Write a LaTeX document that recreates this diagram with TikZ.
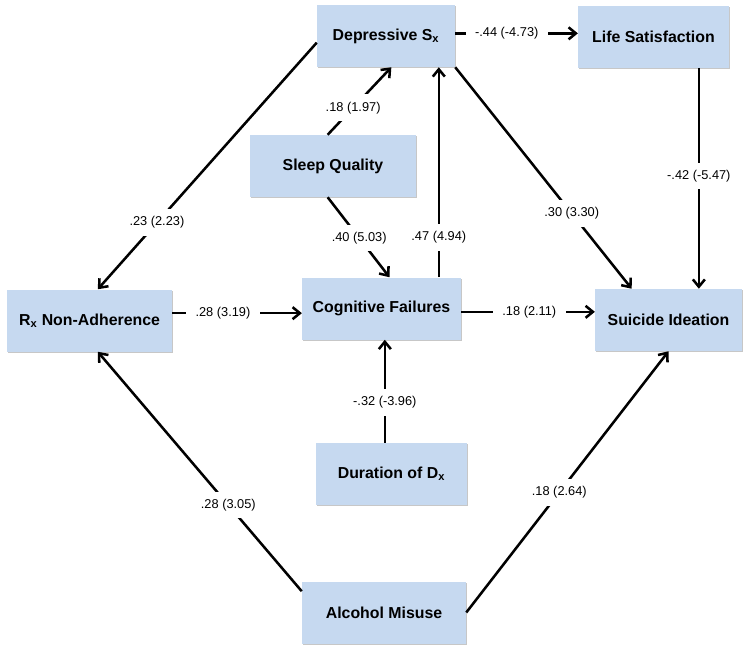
\documentclass[tikz,border=0pt]{standalone}
\usepackage{fontspec}
\setmainfont{Liberation Sans}
\usetikzlibrary{positioning,calc,shadows,arrows.meta}
\definecolor{boxblue}{HTML}{C6D9F0}

\begin{document}
\begin{tikzpicture}[
  x=0.75pt, y=-0.75pt,
  var/.style={fill=boxblue, minimum height=46.5pt, inner sep=2pt,
    font=\fontsize{11.9}{12}\selectfont\bfseries,
    drop shadow={shadow xshift=0.7pt, shadow yshift=-1.1pt, opacity=0.22, fill=black}},
  link/.style={line width=1.9pt, -{Straight Barb[length=5.5pt,width=9pt]}},
  coef/.style={fill=white, inner xsep=7pt, inner ysep=5.5pt, font=\fontsize{9.6}{10}\selectfont}
  ]

   \useasboundingbox (0,0) rectangle (750,653);

   \node (dep) [var, minimum width=103.5pt] at (386,36) {Depressive S\textsubscript{x}} ;
   \node (life) [var, minimum width=113pt] at (653.5,36.5) {Life Satisfaction} ;
   \node (sleep) [var, minimum width=124.5pt] at (333,166) {Sleep Quality} ;
   \node (cog) [var, minimum width=119pt] at (381.5,308.5) {Cognitive Failures} ;
   \node (rx) [var, minimum width=124pt] at (89.5,320.5) {R\textsubscript{x} Non-Adherence} ;
   \node (sui) [var, minimum width=110pt] at (668.5,320) {Suicide Ideation} ;
   \node (dur) [var, minimum width=113pt] at (391.5,474) {Duration of D\textsubscript{x}} ;
   \node (alc) [var, minimum width=123pt] at (384,612.5) {Alcohol Misuse} ;

   % upper paths
   \draw [link] ([yshift=2pt]dep.east) coordinate (d1) -- node[coef, pos=0.42] {-.44 (-4.73)} (d1 -| life.west);
   \draw [link] (dep.south east) -- node[coef, pos=0.66] {.30 (3.30)} ($(sui.north west)!0.25!(sui.north east)$);
   \draw [link] ($(life.south west)!0.8!(life.south east)$) coordinate (l1) -- node[coef, pos=0.49] {-.42 (-5.47)} (l1 |- sui.north);
   \draw [link] ([yshift=-5pt]dep.west) -- node[coef, pos=0.73] {.23 (2.23)} ($(rx.north west)!0.55!(rx.north east)$);
   \draw [link] ([xshift=-4pt]sleep.north) -- node[coef, pos=0.40] {.18 (1.97)} ([xshift=4pt]dep.south);
   \draw [link] ([xshift=-4pt]sleep.south) -- node[coef, pos=0.51] {.40 (5.03)} ([xshift=6pt]cog.north);
   \draw [link] ($(cog.north west)!0.86!(cog.north east)$) coordinate (c1) -- node[coef, pos=0.19] {.47 (4.94)} (c1 |- dep.south);

   % middle row
   \draw [link] ([yshift=5.5pt]rx.east) coordinate (r1) -- node[coef, pos=0.39] {.28 (3.19)} (r1 -| cog.west);
   \draw [link] ([yshift=-2.5pt]cog.east) coordinate (c2) -- node[coef, pos=0.51] {.18 (2.11)} (c2 -| sui.west);
   \draw [link] ([xshift=-5pt]dur.north) coordinate (u1) -- node[coef, pos=0.39] {-.32 (-3.96)} (u1 |- cog.south);

   % lower paths
   \draw [link] ($(alc.north west)!0.16!(alc.south west)$) -- node[coef, pos=0.36] {.28 (3.05)} ($(rx.south west)!0.55!(rx.south east)$);
   \draw [link] (alc.east) -- node[coef, pos=0.46] {.18 (2.64)} (sui.south);

\end{tikzpicture}
\end{document}
